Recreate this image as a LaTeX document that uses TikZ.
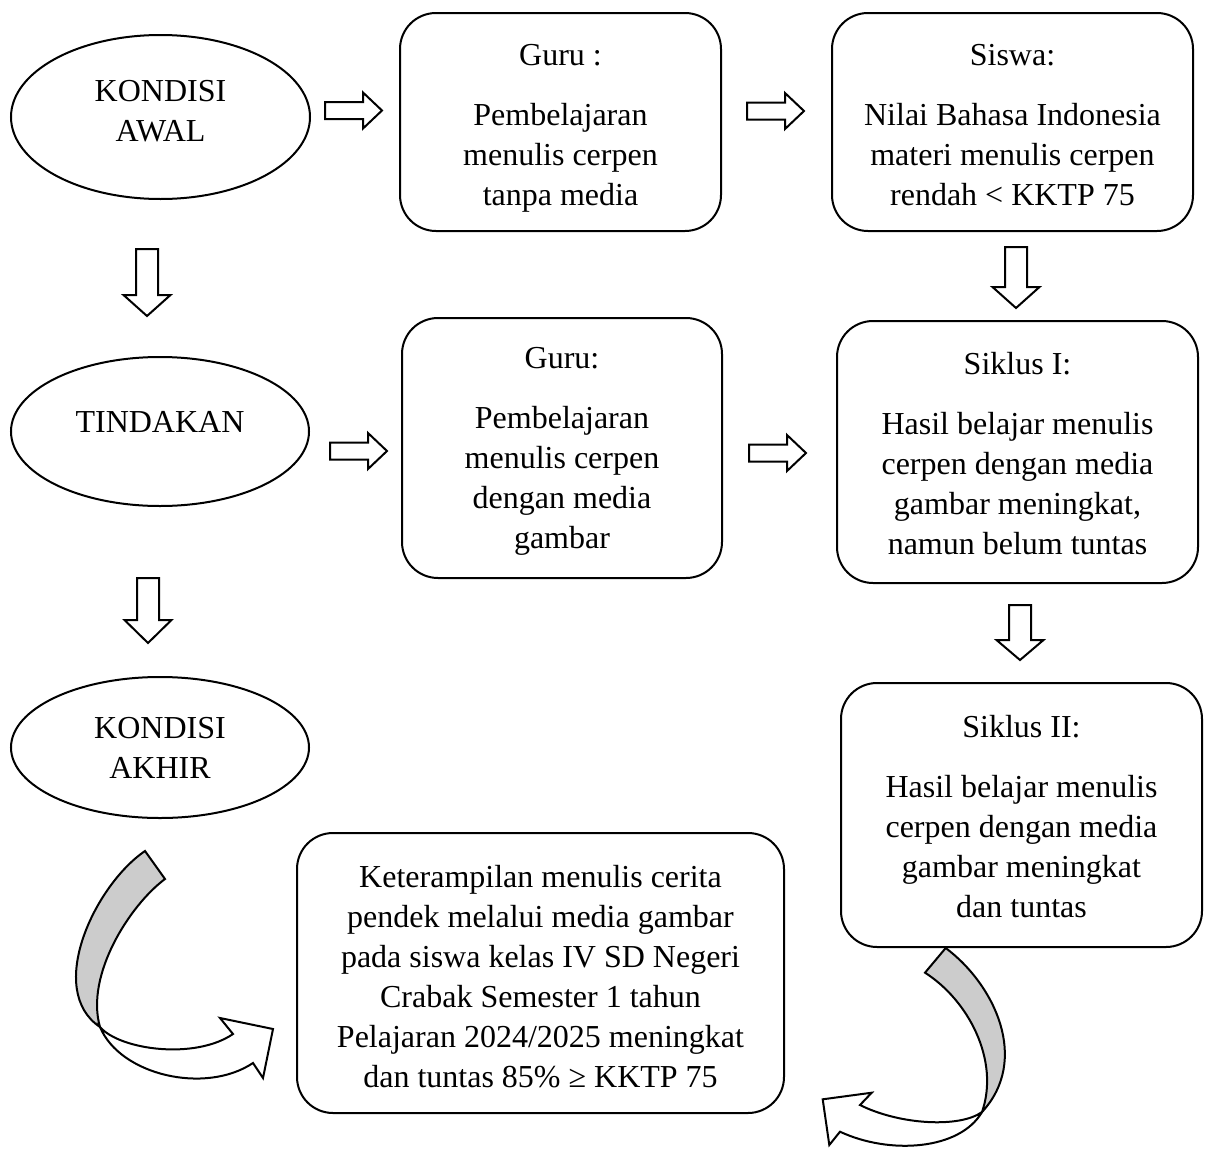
\documentclass[tikz,border=0pt]{standalone}
\usepackage{fontspec}
\setmainfont{Liberation Serif}
\usetikzlibrary{shapes.geometric}
\definecolor{ribbon}{RGB}{204,204,204}
\newcommand\diagfont{\fontsize{16pt}{20pt}\selectfont}
% right block arrow: x0, x-shaft-end, x-tip, y-centre
\newcommand\rblk[4]{\draw[blk] (#1,#4-8.5) -- (#2,#4-8.5) -- (#2,#4-18) -- (#3,#4) -- (#2,#4+18) -- (#2,#4+8.5) -- (#1,#4+8.5) -- cycle;}
% down block arrow: x-centre, y-top, y-head, y-tip
\newcommand\dblk[4]{\draw[blk] (#1-11,#2) -- (#1+11,#2) -- (#1+11,#3) -- (#1+23.5,#3) -- (#1,#4) -- (#1-23.5,#3) -- (#1-11,#3) -- cycle;}
\begin{document}
\begin{tikzpicture}[x=0.5pt,y=-0.5pt,line width=1pt,
  box/.style={draw,rounded corners=18pt,align=center,inner sep=0pt,font=\diagfont},
  oval/.style={draw,ellipse,inner sep=0pt},
  lbl/.style={align=center,inner sep=0pt,font=\diagfont},
  blk/.style={draw,fill=white,line join=miter},
  rib/.style={draw,fill=ribbon,line join=miter}]
\useasboundingbox (0,0) rectangle (1205,1151);

% ellipses
\node[oval,minimum width=149.5pt,minimum height=82pt] (awal) at (160.5,117) {};
\node[lbl] (awaltxt) at ([yshift=3pt]awal.center) {KONDISI\\AWAL};
\node[oval,minimum width=149pt,minimum height=74.5pt] (tind) at (160,431.5) {};
\node[lbl] (tindtxt) at ([yshift=5pt]tind.center) {TINDAKAN};
\node[oval,minimum width=149pt,minimum height=70.5pt] (akhir) at (160,747.5) {};
\node[lbl] (akhirtxt) at (akhir.center) {KONDISI\\AKHIR};

% boxes
\node[box,minimum width=160.5pt,minimum height=109pt] (guru1) at (560.5,122) {};
\node[lbl] (guru1txt) at ([yshift=-3pt]guru1.center)
  {Guru :\\[10pt]Pembelajaran\\menulis cerpen\\tanpa media};
\node[box,minimum width=180.5pt,minimum height=109pt] (siswa) at (1012.5,122) {};
\node[lbl] (siswatxt) at ([yshift=-1.5pt]siswa.center)
  {Siswa:\\[10pt]Nilai Bahasa Indonesia\\materi menulis cerpen\\rendah \textless{} KKTP 75};
\node[box,minimum width=160pt,minimum height=130pt] (guru2) at (562,448) {};
\node[lbl] (guru2txt) at ([yshift=-1.5pt]guru2.center)
  {Guru:\\[10pt]Pembelajaran\\menulis cerpen\\dengan media\\gambar};
\node[box,minimum width=180.5pt,minimum height=131pt] (s1) at (1017.5,452) {};
\node[lbl] (s1txt) at ([yshift=-1pt]s1.center)
  {Siklus I:\\[10pt]Hasil belajar menulis\\cerpen dengan media\\gambar meningkat,\\namun belum tuntas};
\node[box,minimum width=180.5pt,minimum height=132pt] (s2) at (1021.5,815) {};
\node[lbl] (s2txt) at ([yshift=-1pt]s2.center)
  {Siklus II:\\[10pt]Hasil belajar menulis\\cerpen dengan media\\gambar meningkat\\dan tuntas};
\node[box,minimum width=243.5pt,minimum height=140pt] (hasil) at (540.5,973) {};
\node[lbl] (hasiltxt) at ([yshift=-2pt]hasil.center)
  {Keterampilan menulis cerita\\pendek melalui media gambar\\pada siswa kelas IV SD Negeri\\Crabak Semester 1 tahun\\Pelajaran 2024/2025 meningkat\\dan tuntas 85\% ≥ KKTP 75};

% block arrows
\rblk{325}{363}{382}{110.5}
\rblk{747}{785}{804}{111}
\rblk{330}{368}{387}{451}
\rblk{749}{787}{806}{453}
\dblk{147}{249}{295}{316}
\dblk{148}{578}{620}{643}
\dblk{1016}{247}{287}{308}
\dblk{1020}{605}{640}{660}

% curved arrow, left
\draw[rib] (145,851) .. controls (95,885) and (45,990) .. (100,1027)
  .. controls (85,975) and (130,905) .. (165,879) -- cycle;
\draw[blk] (100,1027) .. controls (120,1075) and (205,1095) .. (253,1063)
  -- (263,1078) -- (273,1029) -- (220,1018) -- (233,1034)
  .. controls (195,1060) and (120,1050) .. (100,1027) -- cycle;

% curved arrow, right
\draw[rib] (945.7,948) .. controls (995,985) and (1030,1060) .. (982,1112)
  .. controls (1000,1060) and (968,1000) .. (925,972.7) -- cycle;
\draw[blk] (982,1112) .. controls (960,1150) and (890,1155) .. (840,1131.7)
  -- (829.3,1145) -- (822.7,1099.3) -- (871.7,1092.7) -- (860,1105)
  .. controls (900,1125) and (960,1128) .. (982,1112) -- cycle;
\end{tikzpicture}
\end{document}
